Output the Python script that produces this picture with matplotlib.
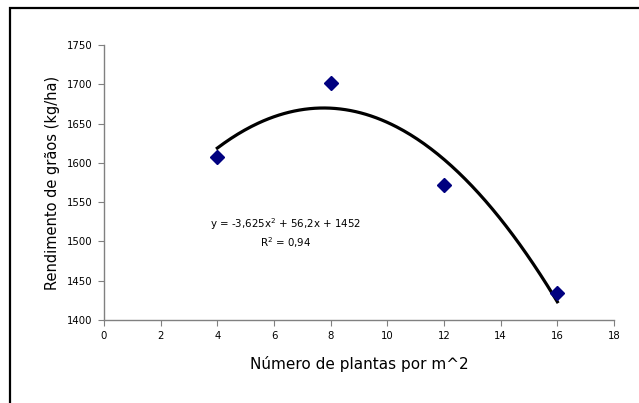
import matplotlib
matplotlib.use('Agg')
import matplotlib.pyplot as plt
import numpy as np

# data
plantas = [4, 8, 12, 16]
rendimento = [1608, 1702, 1572, 1434]
x_ticks = [0, 2, 4, 6, 8, 10, 12, 14, 16, 18]
y_ticks = [1400, 1450, 1500, 1550, 1600, 1650, 1700, 1750]
eq_text = 'y = -3,625x$^2$ + 56,2x + 1452'
r2_text = 'R$^2$ = 0,94'

plt.rcParams['font.family'] = ['DejaVu Sans']
plt.rcParams['mathtext.fontset'] = 'dejavusans'

fig = plt.figure(figsize=(6.39, 4.03), dpi=100)
ax = fig.add_axes([104/639, 1 - 320/403, 510/639, 275/403])

# outer chart border (cropped on the right and bottom)
border = plt.Rectangle((10/639, -0.1), 1.2, 1 - 8/403 + 0.1, transform=fig.transFigure,
                       fill=False, edgecolor='black', linewidth=1.6, clip_on=False)
fig.patches.append(border)

# polynomial trendline (2nd order) over the data range
coef = np.polyfit(plantas, rendimento, 2)
xs = np.linspace(min(plantas), max(plantas), 200)
ax.plot(xs, np.polyval(coef, xs), color='black', linewidth=2.3, zorder=2)

ax.plot(plantas, rendimento, linestyle='none', marker='D', markersize=7.5,
        color='#000080', zorder=3)

ax.text(6.4, 1522, eq_text, ha='center', va='center', fontsize=7.4)
ax.text(6.4, 1498, r2_text, ha='center', va='center', fontsize=7.4)

ax.set_xlim(0, 18)
ax.set_ylim(1400, 1750)
ax.set_xticks(x_ticks)
ax.set_yticks(y_ticks)
ax.tick_params(labelsize=7.3, length=4, width=0.8, color='#808080', pad=4)
for s in ['top', 'right']:
    ax.spines[s].set_visible(False)
for s in ['left', 'bottom']:
    ax.spines[s].set_color('#808080')
    ax.spines[s].set_linewidth(1.0)

ax.set_xlabel('Número de plantas por m^2', fontsize=11, labelpad=11)
ax.set_ylabel('Rendimento de grãos (kg/ha)', fontsize=10.5, labelpad=5)

fig.savefig('out.png', dpi=100)
